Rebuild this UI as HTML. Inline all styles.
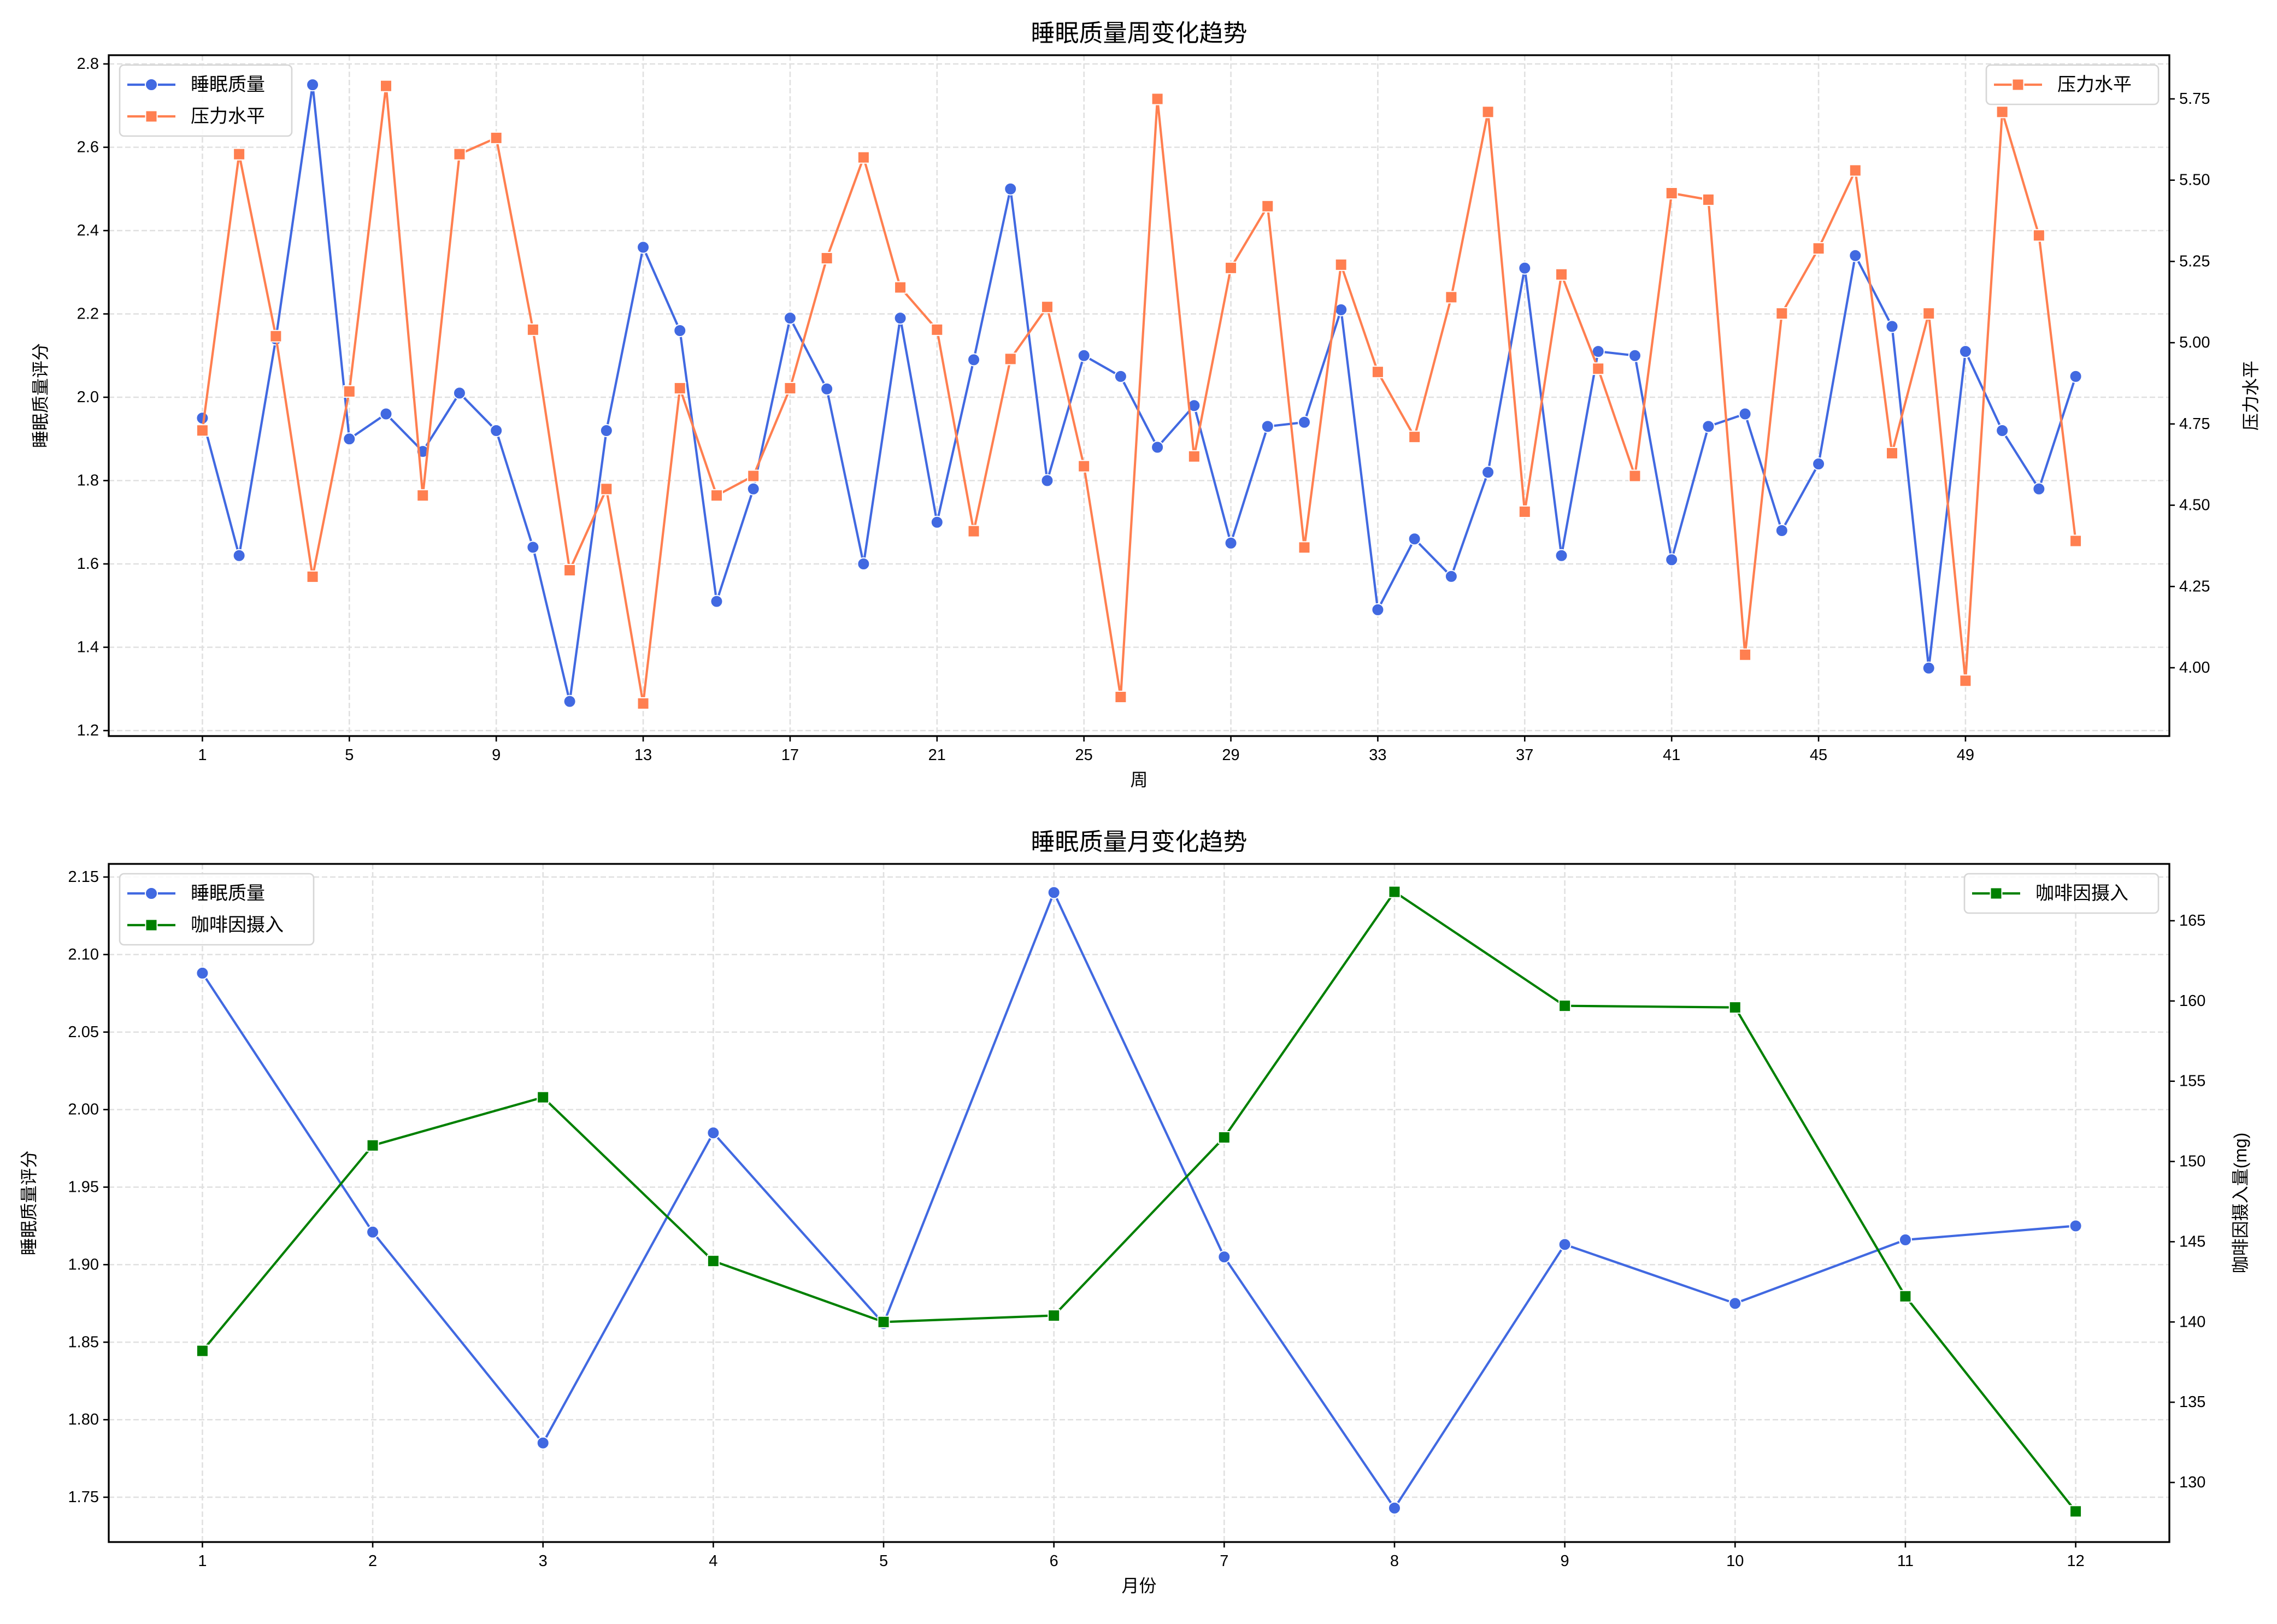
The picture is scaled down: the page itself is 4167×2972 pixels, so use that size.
<!DOCTYPE html>
<html><head><meta charset="utf-8">
<style>
html,body{margin:0;padding:0;background:#fff;}
svg{display:block;font-family:"Liberation Sans","Noto Sans CJK SC",sans-serif;}
</style></head>
<body>
<svg id="chart" width="4167" height="2972" viewBox="0 0 4167 2972" xmlns="http://www.w3.org/2000/svg">
<rect width="4167" height="2972" fill="#fff"/>
</svg>
<script>
const weeks = Array.from({length:52},(_,i)=>i+1);
const weeklySleep = [1.95,1.62,2.14,2.75,1.90,1.96,1.87,2.01,1.92,1.64,1.27,1.92,2.36,2.16,1.51,1.78,2.19,2.02,1.60,2.19,1.70,2.09,2.50,1.80,2.10,2.05,1.88,1.98,1.65,1.93,1.94,2.21,1.49,1.66,1.57,1.82,2.31,1.62,2.11,2.10,1.61,1.93,1.96,1.68,1.84,2.34,2.17,1.35,2.11,1.92,1.78,2.05];
const weeklyStress = [4.73,5.58,5.02,4.28,4.85,5.79,4.53,5.58,5.63,5.04,4.30,4.55,3.89,4.86,4.53,4.59,4.86,5.26,5.57,5.17,5.04,4.42,4.95,5.11,4.62,3.91,5.75,4.65,5.23,5.42,4.37,5.24,4.91,4.71,5.14,5.71,4.48,5.21,4.92,4.59,5.46,5.44,4.04,5.09,5.29,5.53,4.66,5.09,3.96,5.71,5.33,4.39];
const months = [1,2,3,4,5,6,7,8,9,10,11,12];
const monthlySleep = [2.088,1.921,1.785,1.985,1.862,2.140,1.905,1.743,1.913,1.875,1.916,1.925];
const monthlyCaffeine = [138.2,151.0,154.0,143.8,140.0,140.4,151.5,166.8,159.7,159.6,141.6,128.2];
const weekTicks = [1,5,9,13,17,21,25,29,33,37,41,45,49];
const topLeftTicks = [1.2,1.4,1.6,1.8,2.0,2.2,2.4,2.6,2.8];
const topRightTicks = [4.00,4.25,4.50,4.75,5.00,5.25,5.50,5.75];
const botLeftTicks = [1.75,1.80,1.85,1.90,1.95,2.00,2.05,2.10,2.15];
const botRightTicks = [130,135,140,145,150,155,160,165];

const NS="http://www.w3.org/2000/svg";
const svg=document.getElementById('chart');
function mk(tag,attrs,parent){const e=document.createElementNS(NS,tag);for(const k in attrs)e.setAttribute(k,attrs[k]);(parent||svg).appendChild(e);return e;}
function lin(d0,d1,r0,r1){return v=>r0+(v-d0)/(d1-d0)*(r1-r0);}
function txt(s,x,y,size,anchor,parent,rot){const t=mk('text',{x:x,y:y,'font-size':size,'text-anchor':anchor||'middle','dominant-baseline':'central',fill:'#000'},parent);if(rot)t.setAttribute('transform',`rotate(${rot} ${x} ${y})`);t.textContent=s;return t;}

function panel(o){
  const g=mk('g',{});
  
  
  const {L,R,T,B}=o;
  // grid
  o.xTicks.forEach(v=>{const x=o.x(v);const l=mk('line',{x1:x,x2:x,y1:T,y2:B,stroke:'#e0e0e0','stroke-width':2.6,'stroke-dasharray':'10,5'},g);});
  o.lTicks.forEach(v=>{const y=o.yl(v);const l=mk('line',{x1:L,x2:R,y1:y,y2:y,stroke:'#e0e0e0','stroke-width':2.6,'stroke-dasharray':'10,5'},g);});
  // series
  function series(xs,ys,yf,color,marker,nm){
    const sg=mk('g',{},g);
    
    
    const pts=xs.map((xv,i)=>o.x(xv).toFixed(1)+','+yf(ys[i]).toFixed(1)).join(' ');
    mk('polyline',{points:pts,fill:'none',stroke:color,'stroke-width':4.2,'stroke-linejoin':'round'},sg);
    xs.forEach((xv,i)=>{const cx=o.x(xv),cy=yf(ys[i]);let m;
      if(marker==='o')m=mk('circle',{cx:cx,cy:cy,r:11,fill:color,stroke:'#fff','stroke-width':2},sg);
      else m=mk('rect',{x:cx-10.5,y:cy-10.5,width:21,height:21,fill:color,stroke:'#fff','stroke-width':2},sg);
      });
  }
  series(o.xs,o.ys1,o.yl,'#4169e1','o',o.s1name);
  series(o.xs,o.ys2,o.yr,o.c2,'s',o.s2name);
  // frame
  mk('rect',{x:L,y:T,width:R-L,height:B-T,fill:'none',stroke:'#000','stroke-width':3.3},g);
  // ticks
  o.xTicks.forEach(v=>{const x=o.x(v);mk('line',{x1:x,x2:x,y1:B,y2:B+10,stroke:'#000','stroke-width':2.6},g);const t=txt(String(v),x,B+35,29,'middle',g);});
  o.lTicks.forEach(v=>{const y=o.yl(v);mk('line',{x1:L-10,x2:L,y1:y,y2:y,stroke:'#000','stroke-width':2.6},g);const t=txt(v.toFixed(o.lDec),L-18,y,29,'end',g);});
  o.rTicks.forEach(v=>{const y=o.yr(v);mk('line',{x1:R,x2:R+10,y1:y,y2:y,stroke:'#000','stroke-width':2.6},g);const t=txt(v.toFixed(o.rDec),R+18,y,29,'start',g);});
  const ti=txt(o.title,(L+R)/2,T-40,44,'middle',g);
  const xl=txt(o.xlabel,(L+R)/2,B+80,32,'middle',g);
  const yl=txt(o.ylabel,o.ylx,(T+B)/2,32,'middle',g,-90);
  const yr=txt(o.yrlabel,o.yrx,(T+B)/2,32,'middle',g,-90);
  // legends
  function legend(x,y,w,entries,nm){
    const lg=mk('g',{},g);
    
    
    const h=entries.length*58+14;
    mk('rect',{x:x,y:y,width:w,height:h,rx:8,fill:'#fff','fill-opacity':0.85,stroke:'#d6d6d6','stroke-width':2.6},lg);
    entries.forEach((e,i)=>{const cy=y+36+i*58;
      mk('line',{x1:x+14,x2:x+102,y1:cy,y2:cy,stroke:e.c,'stroke-width':4.2},lg);
      if(e.m==='o')mk('circle',{cx:x+58,cy:cy,r:11,fill:e.c,stroke:'#fff','stroke-width':2},lg);
      else mk('rect',{x:x+47.5,y:cy-10.5,width:21,height:21,fill:e.c,stroke:'#fff','stroke-width':2},lg);
      const t=txt(e.t,x+130,cy,34,'start',lg);});
  }
  legend(L+20,T+18,o.lw,[{t:'睡眠质量',c:'#4169e1',m:'o'},{t:o.s2label,c:o.c2,m:'s'}],'left-legend');
  legend(R-20-o.lw,T+18,o.lw,[{t:o.s2label,c:o.c2,m:'s'}],'right-legend');
}

// top panel
(function(){
  const L=199,R=3970,T=101,B=1347;
  const pw=(R-L)/56.1;
  panel({name:'weekly-panel',L,R,T,B,
    x:v=>L+(v-1+2.55)*pw,
    yl:lin(1.2,2.8,1337,117), yr:lin(4.0,5.75,1222,181),
    xs:weeks, ys1:weeklySleep, ys2:weeklyStress,
    xTicks:weekTicks,lTicks:topLeftTicks,rTicks:topRightTicks,lDec:1,rDec:2,
    c2:'#ff7f50',s1name:'weekly-sleep-line',s2name:'weekly-stress-line',s2label:'压力水平',
    title:'睡眠质量周变化趋势',xlabel:'周',ylabel:'睡眠质量评分',yrlabel:'压力水平',
    ylx:74,yrx:4119,lw:315});
})();
// bottom panel
(function(){
  const L=199,R=3970,T=1581,B=2822;
  const pw=(R-L)/12.1;
  panel({name:'monthly-panel',L,R,T,B,
    x:v=>L+(v-1+0.55)*pw,
    yl:lin(1.75,2.15,2740,1605), yr:lin(130,165,2713,1685),
    xs:months, ys1:monthlySleep, ys2:monthlyCaffeine,
    xTicks:months,lTicks:botLeftTicks,rTicks:botRightTicks,lDec:2,rDec:0,
    c2:'#008000',s1name:'monthly-sleep-line',s2name:'monthly-caffeine-line',s2label:'咖啡因摄入',
    title:'睡眠质量月变化趋势',xlabel:'月份',ylabel:'睡眠质量评分',yrlabel:'咖啡因摄入量(mg)',
    ylx:53,yrx:4100,lw:355});
})();
</script>
</body></html>
